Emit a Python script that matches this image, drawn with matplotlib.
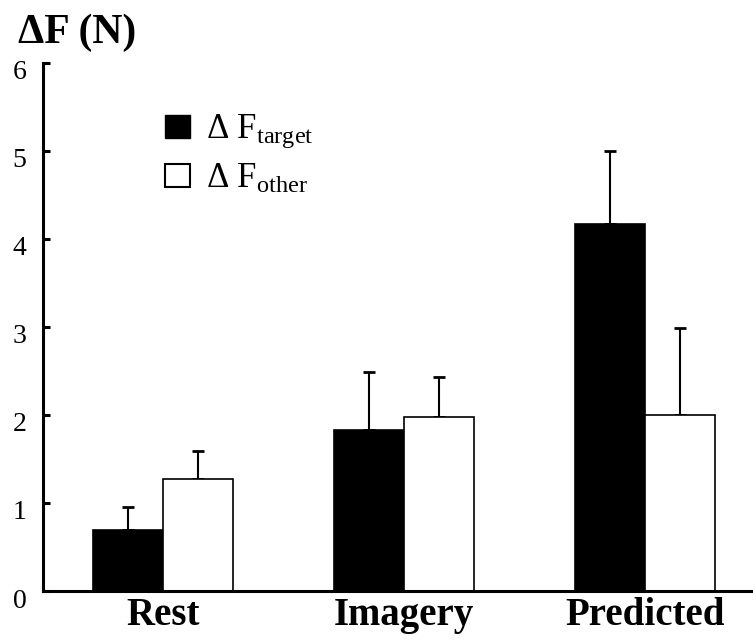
import matplotlib
matplotlib.use('Agg')
import matplotlib.pyplot as plt
import matplotlib.transforms as mtransforms
from matplotlib.patches import Patch
import numpy as np

plt.rcParams['font.family'] = ['Liberation Serif', 'DejaVu Serif']
plt.rcParams['mathtext.fontset'] = 'custom'
plt.rcParams['mathtext.rm'] = 'Liberation Serif'
plt.rcParams['mathtext.it'] = 'Liberation Serif:italic'
plt.rcParams['mathtext.bf'] = 'Liberation Serif:bold'

# data
categories = ['Rest', 'Imagery', 'Predicted']
target_vals = [0.69, 1.83, 4.17]
target_err = [0.26, 0.66, 0.83]
other_vals = [1.27, 1.98, 2.00]
other_err = [0.32, 0.45, 0.99]
yticks = [0, 1, 2, 3, 4, 5, 6]


def main():
    fig = plt.figure(figsize=(7.53, 6.41), dpi=100)
    ax = fig.add_axes([0.057, 0.078, 0.943, 0.824])

    x = np.arange(len(categories))
    w = 0.29
    ax.bar(x - w / 2, target_vals, w, color='black', edgecolor='black',
           linewidth=1.2, zorder=2)
    ax.bar(x + w / 2, other_vals, w, color='white', edgecolor='black',
           linewidth=1.2, zorder=2)
    ax.errorbar(x - w / 2, target_vals, yerr=[[0] * 3, target_err],
                fmt='none', ecolor='black', elinewidth=1.5, capsize=4,
                capthick=2, zorder=1)
    ax.errorbar(x + w / 2, other_vals, yerr=[[0] * 3, other_err],
                fmt='none', ecolor='black', elinewidth=1.5, capsize=4,
                capthick=2, zorder=1)

    ax.set_xlim(-0.498, 2.448)
    ax.set_ylim(0, 6)
    ax.set_yticks(yticks)
    ax.set_yticklabels([str(t) for t in yticks], fontsize=20)
    ax.set_xticks(x)
    ax.set_xticklabels(categories, fontsize=28, fontweight='bold')
    ax.tick_params(axis='y', direction='in', length=5, width=2.2, pad=12)
    ax.tick_params(axis='x', length=0, pad=4)

    offset = mtransforms.ScaledTranslation(0, -7 / 100, fig.dpi_scale_trans)
    for lab in ax.get_yticklabels():
        lab.set_transform(lab.get_transform() + offset)

    for side in ['top', 'right']:
        ax.spines[side].set_visible(False)
    for side in ['left', 'bottom']:
        ax.spines[side].set_linewidth(2.2)

    handles = [Patch(facecolor='black', edgecolor='black'),
               Patch(facecolor='white', edgecolor='black', linewidth=1.5)]
    labels = [r'$\Delta\ \mathrm{F}_{\mathrm{target}}$',
              r'$\Delta\ \mathrm{F}_{\mathrm{other}}$']
    ax.legend(handles, labels, loc='upper left', bbox_to_anchor=(0.172, 0.905),
              frameon=False, fontsize=25, handlelength=0.72, handleheight=0.63,
              handletextpad=0.45, borderpad=0, borderaxespad=0,
              labelspacing=0.35)

    fig.text(18 / 753, 1 - 33 / 641, u'\u0394F (N)', fontsize=30,
             fontweight='bold', ha='left', va='center')

    fig.savefig('out.png', dpi=100)


if __name__ == '__main__':
    main()
